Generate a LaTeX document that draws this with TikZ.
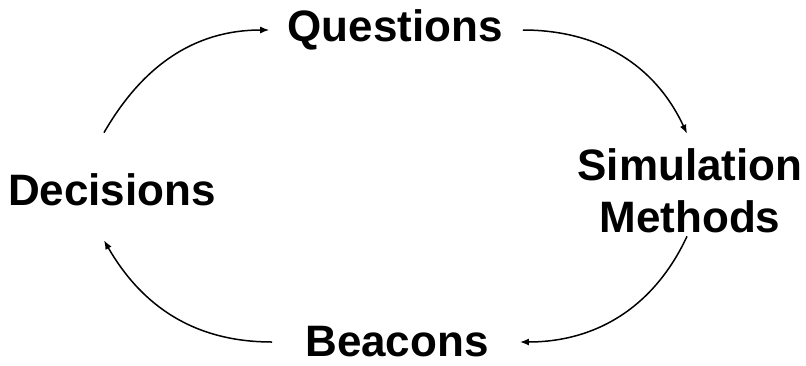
\documentclass[tikz,border=0pt]{standalone}
\usepackage{fontspec}
\setmainfont{Liberation Sans}
\usetikzlibrary{arrows.meta}
\begin{document}
\begin{tikzpicture}[x=1pt,y=1pt,
  lbl/.style={inner sep=0pt, font=\fontsize{44}{52}\selectfont\bfseries, align=center},
  arr/.style={line width=1.5pt, -{Latex[length=9pt,width=7pt]}}]
\useasboundingbox (0,0) rectangle (806,-365);
\node[lbl] (Q) at (395,-30) {Questions};
\node[lbl] (S) at (690,-191) {Simulation\\Methods};
\node[lbl] (B) at (397,-342) {Beacons};
\node[lbl] (D) at (112,-190) {Decisions};
\draw[arr] ([xshift=-8pt,yshift=41pt]D.north) to[out=60,in=180] ([xshift=-18pt]Q.west);
\draw[arr] ([xshift=20pt]Q.east) to[out=0,in=115] ([xshift=-3pt,yshift=15pt]S.north);
\draw[arr] ([xshift=-3pt,yshift=-3pt]S.south) to[out=-115,in=0] ([xshift=31pt]B.east);
\draw[arr] ([xshift=-33pt]B.west) to[out=180,in=-60] ([xshift=-8pt,yshift=-34pt]D.south);
\end{tikzpicture}
\end{document}
